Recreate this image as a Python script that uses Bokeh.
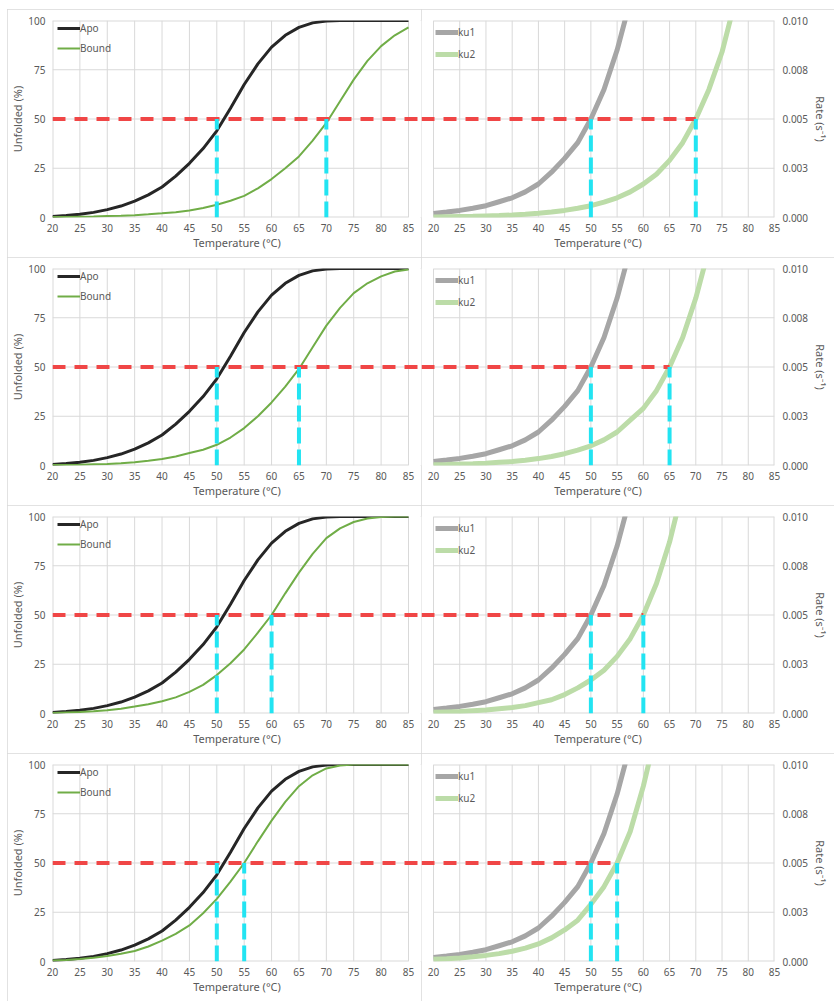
from bokeh.plotting import figure
from bokeh.layouts import column, row
from bokeh.models import (FixedTicker, Range1d, Legend, LegendItem, Arrow, Spacer)
from bokeh.embed import file_html
from bokeh.resources import INLINE

# ---------------- data ----------------
temps = [20, 22.5, 25, 27.5, 30, 32.5, 35, 37.5, 40, 42.5, 45, 47.5, 50, 52.5,
         55, 57.5, 60, 62.5, 65, 67.5, 70, 72.5, 75, 77.5, 80, 82.5, 85]
x_ticks = [20, 25, 30, 35, 40, 45, 50, 55, 60, 65, 70, 75, 80, 85]
pct_ticks = [0, 25, 50, 75, 100]
rate_ticks = [0, 0.0025, 0.005, 0.0075, 0.01]
rate_labels = ["0.000", "0.003", "0.005", "0.008", "0.010"]

apo = [0.5, 1.0, 1.6, 2.6, 4.0, 5.8, 8.3, 11.5, 15.5, 21.0, 27.5, 35.0, 44.0, 55.5,
       67.5, 78.0, 86.5, 92.5, 96.5, 98.8, 99.7, 100, 100, 100, 100, 100, 100]
bound_1 = [0.2, 0.3, 0.4, 0.5, 0.7, 0.9, 1.2, 1.6, 2.1, 2.7, 3.5, 4.8, 6.5, 8.5,
           11.0, 14.8, 19.5, 25.0, 31.0, 39.0, 48.0, 59.0, 70.0, 79.5, 87.0, 92.5, 96.5]
bound_2 = [0.2, 0.3, 0.4, 0.6, 0.8, 1.2, 1.7, 2.4, 3.3, 4.6, 6.3, 8.0, 10.5, 14.2,
           19.0, 25.0, 32.0, 40.0, 49.0, 60.0, 71.0, 80.0, 87.5, 92.5, 96.0, 98.5, 99.5]
bound_3 = [0.3, 0.5, 0.7, 1.1, 1.6, 2.4, 3.5, 4.7, 6.2, 8.2, 11.0, 14.5, 19.5, 25.5,
           32.5, 41.0, 50.0, 61.0, 71.5, 81.0, 89.0, 94.0, 97.2, 99.0, 99.7, 100, 100]
bound_4 = [0.5, 0.8, 1.3, 1.9, 2.8, 3.9, 5.3, 7.6, 10.6, 14.0, 18.3, 24.5, 31.8, 40.5,
           50.0, 61.0, 71.5, 81.0, 89.0, 94.5, 98.0, 99.5, 100, 100, 100, 100, 100]

ku1 = [0.00021, 0.00028, 0.00036, 0.00047, 0.0006, 0.0008, 0.001, 0.0013, 0.0017,
       0.0023, 0.003, 0.0038, 0.005, 0.0065, 0.0085, 0.011]
ku2_1 = [0.00003, 0.00004, 0.00005, 0.00006, 0.00008, 0.0001, 0.00013, 0.00017,
         0.00022, 0.00028, 0.00036, 0.00047, 0.0006, 0.00078, 0.001, 0.0013, 0.0017,
         0.0022, 0.0029, 0.0038, 0.005, 0.0065, 0.0084, 0.011]
ku2_2 = [0.000043, 0.000055, 0.00007, 0.00009, 0.00012, 0.00016, 0.0002, 0.00027,
         0.00035, 0.00046, 0.0006, 0.00078, 0.001, 0.0013, 0.0017, 0.0023, 0.0029,
         0.0038, 0.005, 0.0065, 0.0085, 0.011]
ku2_3 = [0.00006, 0.00008, 0.0001, 0.00014, 0.00018, 0.00024, 0.0003, 0.0004,
         0.00055, 0.0007, 0.00096, 0.0013, 0.0017, 0.0022, 0.0029, 0.0038, 0.005,
         0.0066, 0.0087, 0.0114]
ku2_4 = [0.00011, 0.00014, 0.00018, 0.00024, 0.00031, 0.0004, 0.00052, 0.00068,
         0.00089, 0.0012, 0.0016, 0.0021, 0.0029, 0.0038, 0.005, 0.0066, 0.0089, 0.0117]

tm_apo = 50
tm_bound = [70, 65, 60, 55]
half_pct = 50
half_rate = 0.005

# ---------------- style / layout ----------------
FONT = "Noto Sans"
TXT = "#595959"
GRID = "#d9d9d9"
RED = "#f04646"
CYAN = "#22e4f2"
H = 248
WL, WR = 414, 413
L_LEFT, L_TOP, L_BOTTOM = 45, 9, 40
R_RIGHT, R_TOP, R_BOTTOM = 60, 11, 40
L_PLOT_W = 356            # pixel width of 20..85 in the left panels
R_PLOT_W = 341            # pixel width of 20..85 in the right panels
R_INSET = 12              # gap left of x=20 in the right panels
FRAME_HL = H - L_TOP - L_BOTTOM
FRAME_HR = H - R_TOP - R_BOTTOM
X0, X1 = x_ticks[0], x_ticks[-1]
SPAN = X1 - X0
# frames run up to the panel edge so the 50 % guide crosses between panels
L_EXT = (WL - L_LEFT - L_PLOT_W) * SPAN / L_PLOT_W
R_EXT = R_INSET * SPAN / R_PLOT_W


def style(p):
    p.xgrid.visible = False
    p.ygrid.visible = False
    p.outline_line_color = None
    p.background_fill_color = "white"
    p.border_fill_color = "white"
    p.styles = {"outline": "1px solid #d9d9d9", "outline-offset": "-1px"}
    for ax in p.axis:
        ax.axis_line_color = None
        ax.major_tick_line_color = None
        ax.minor_tick_line_color = None
        ax.major_tick_out = 0
        ax.major_tick_in = 0
        ax.major_label_text_font = FONT
        ax.major_label_text_font_size = "10px"
        ax.major_label_text_color = TXT
        ax.axis_label_text_font = FONT
        ax.axis_label_text_font_size = "11px"
        ax.axis_label_text_font_style = "normal"
        ax.axis_label_text_color = TXT
    p.xaxis.ticker = FixedTicker(ticks=x_ticks)
    p.xaxis.axis_label = "Temperature (°C)"
    p.xaxis.major_label_standoff = 6
    p.xaxis.axis_label_standoff = 0


def grid(p, yticks, x_edge):
    ylo, yhi = yticks[0], yticks[-1]
    inner_x = [t for t in x_ticks if t != x_edge]
    p.segment(x0=inner_x, y0=ylo, x1=inner_x, y1=yhi, line_color=GRID, line_width=1, level="underlay")
    p.segment(x0=x_edge, y0=ylo, x1=x_edge, y1=yhi, line_color=GRID, line_width=2, level="underlay")
    inner_y = yticks[1:-1]
    p.segment(x0=X0, y0=inner_y, x1=X1, y1=inner_y, line_color=GRID, line_width=1, level="underlay")
    p.segment(x0=X0, y0=[ylo, yhi], x1=X1, y1=[ylo, yhi], line_color=GRID, line_width=2, level="underlay")


def legend(p, items, loc, spacing):
    lg = Legend(items=items, location=loc, orientation="vertical",
                border_line_color=None, background_fill_alpha=0,
                label_text_font=FONT, label_text_font_size="10px", label_text_color=TXT,
                glyph_width=23, glyph_height=10, label_height=10, label_standoff=0,
                spacing=spacing, padding=1, margin=0)
    p.add_layout(lg)


def left_fig(bound, tm2):
    p = figure(width=WL, height=H, x_range=Range1d(X0, X1 + L_EXT), y_range=Range1d(0, 100),
               output_backend="svg", toolbar_location=None,
               min_border_left=L_LEFT, min_border_right=0,
               min_border_top=L_TOP, min_border_bottom=L_BOTTOM)
    style(p)
    grid(p, pct_ticks, X0)
    p.yaxis.ticker = FixedTicker(ticks=pct_ticks)
    p.yaxis.axis_label = "Unfolded (%)"
    p.yaxis.major_label_standoff = 7
    p.yaxis.axis_label_standoff = 0
    r1 = p.line(temps, apo, line_color="#262626", line_width=3)
    r2 = p.line(temps, bound, line_color="#70ad47", line_width=2)
    legend(p, [LegendItem(label="Apo", renderers=[r1]), LegendItem(label="Bound", renderers=[r2])],
           (5, FRAME_HL - 37), 6)
    p.add_layout(Arrow(end=None, x_start=X0, y_start=half_pct, x_end=X1 + L_EXT, y_end=half_pct,
                       line_color=RED, line_width=4, line_dash="13 9"))
    for tm in (tm_apo, tm2):
        p.add_layout(Arrow(end=None, x_start=tm, y_start=0, x_end=tm, y_end=half_pct,
                           line_color=CYAN, line_width=4, line_dash="16 6"))
    return p


def right_fig(ku2, tm2):
    p = figure(width=WR, height=H, x_range=Range1d(X0 - R_EXT, X1), y_range=Range1d(0, 0.01),
               output_backend="svg", toolbar_location=None, y_axis_location="right",
               min_border_left=0, min_border_right=R_RIGHT,
               min_border_top=R_TOP, min_border_bottom=R_BOTTOM)
    style(p)
    grid(p, rate_ticks, X1)
    p.yaxis.ticker = FixedTicker(ticks=rate_ticks)
    p.yaxis.major_label_overrides = dict(zip(rate_ticks, rate_labels))
    p.yaxis.axis_label = "Rate (s⁻¹)"
    p.yaxis.major_label_standoff = 8
    p.yaxis.axis_label_standoff = 2
    r1 = p.line(temps[:len(ku1)], ku1, line_color="#a6a6a6", line_width=5)
    r2 = p.line(temps[:len(ku2)], ku2, line_color="#bcdca8", line_width=5)
    legend(p, [LegendItem(label="ku1", renderers=[r1]), LegendItem(label="ku2", renderers=[r2])],
           (R_INSET + 2, FRAME_HR - 41), 8)
    p.add_layout(Arrow(end=None, x_start=X0 - R_EXT, y_start=half_rate, x_end=tm2, y_end=half_rate,
                       line_color=RED, line_width=4, line_dash="13 9"))
    for tm in (tm_apo, tm2):
        p.add_layout(Arrow(end=None, x_start=tm, y_start=0, x_end=tm, y_end=half_rate,
                           line_color=CYAN, line_width=4, line_dash="16 6"))
    return p


bounds = [bound_1, bound_2, bound_3, bound_4]
ku2s = [ku2_1, ku2_2, ku2_3, ku2_4]
rows = [row(Spacer(width=7), left_fig(b, t), right_fig(k, t))
        for b, k, t in zip(bounds, ku2s, tm_bound)]
layout = column(Spacer(height=9), *rows)

open("out.html", "w").write(file_html(layout, INLINE))
